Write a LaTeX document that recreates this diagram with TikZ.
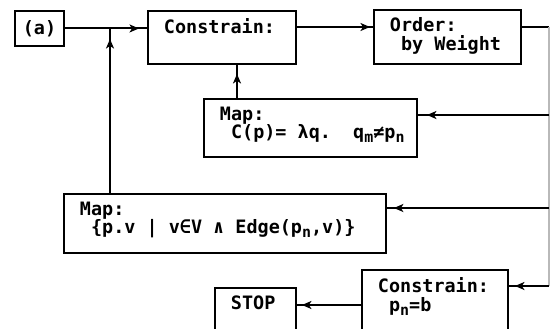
\documentclass[tikz,border=0pt]{standalone}
\usepackage{fontspec}
\setmainfont{DejaVu Sans Mono}
\usetikzlibrary{arrows.meta,decorations.markings}

\newcommand\sub[1]{\raisebox{-0.4ex}{\fontsize{8.5}{8.5}\selectfont #1}}

\begin{document}
\begin{tikzpicture}
	[x=0.02cm, y=-0.02cm, line width=1.1pt,
	box/.style ={draw, rectangle, anchor=north west, inner sep=0pt},
	txt/.style ={anchor=north west, align=left, inner sep=0pt, xshift=0.32cm, yshift=-0.16cm, font=\bfseries\fontsize{10.5}{10.4}\selectfont},
	flow/.style ={postaction={decorate}, decoration={markings, mark=at position -#1 with {\arrow{Stealth[length=0.19cm, width=0.16cm, inset=0.05cm]}}}},
	flow/.default=0.14cm,
	bus/.style ={gray!55, line width=0.6pt}]
	\clip (0,0) rectangle (550,328);
	% boxes
	\node[box, minimum width=0.98cm, minimum height=0.7cm, font=\bfseries\fontsize{10.5}{10.4}\selectfont] (a) at (14,10) {(a)};
	\node[box, minimum width=2.96cm, minimum height=1.06cm, label={[txt]north west:Constrain:}] (constrain) at (147,10) {};
	\node[box, minimum width=2.94cm, minimum height=1.08cm, label={[txt]north west:Order:\\~by Weight}] (order) at (373,9) {};
	\node[box, minimum width=4.26cm, minimum height=1.16cm, label={[txt]north west:Map:\\~C(p)=~λq.~~q\sub{m}≠p\sub{n}}] (mapc) at (203,98) {};
	\node[box, minimum width=6.44cm, minimum height=1.18cm, label={[txt]north west:Map:\\~\{p.v~|~v∈V~∧~Edge(p\sub{n},v)\}}] (mapv) at (63,193) {};
	\node[box, minimum width=2.92cm, minimum height=1.4cm, label={[txt]north west:Constrain:\\~p\sub{n}=b}] (pin) at (361,269) {};
	\node[box, minimum width=1.62cm, minimum height=1.0cm, label={[txt]north west:STOP}] (stop) at (214,287) {};
	% joins on the feedback lines
	\coordinate (j) at (110,27);
	\coordinate (r0) at (549,27);
	\coordinate (r1) at (549,115);
	\coordinate (r2) at (549,208);
	\coordinate (r3) at (549,286);
	\coordinate (s) at (0,305);
	% connectors
	\draw[flow=0.16cm] (a.east) -- (a.east -| constrain.west);
	\draw[flow=0.24cm] (mapv.north -| j) -- (j);
	\draw[flow=0.18cm] (mapc.north -| 237,0) -- (constrain.south -| 237,0);
	\draw[flow=0.06cm] (j -| constrain.east) -- (j -| order.west);
	\draw (r0 -| order.east) -- (r0);
	\draw[bus] (r0) -- (r3);
	\draw[flow=0.18cm] (r1) -- (r1 -| mapc.east);
	\draw[flow] (r2) -- (r2 -| mapv.east);
	\draw[flow=0.12cm] (r3) -- (r3 -| pin.east);
	\draw[flow=0.1cm] (s -| pin.west) -- (s -| stop.east);
\end{tikzpicture}
\end{document}
